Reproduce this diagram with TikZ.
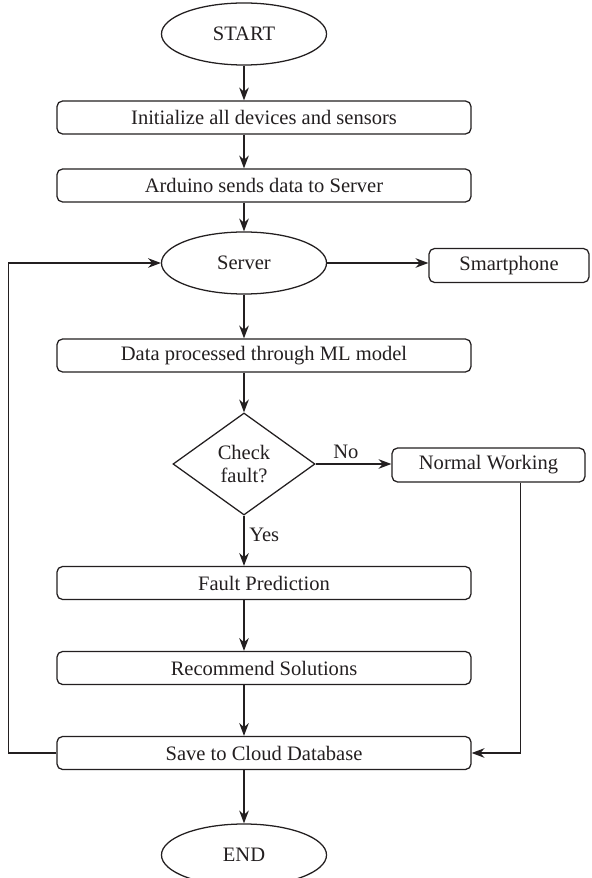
\documentclass[tikz,border=0pt]{standalone}
\usepackage{fontspec}
\setmainfont{Liberation Serif}
\usetikzlibrary{arrows.meta,calc,positioning,shapes.geometric}
\definecolor{FlowInk}{HTML}{231F20}
\definecolor{FlowPaper}{HTML}{FFFFFF}
\tikzset{
  every node/.style={font=\fontsize{14.6}{17}\selectfont, text=FlowInk},
  terminal/.style={ellipse, draw=FlowInk, line width=0.9pt, fill=FlowPaper, minimum width=4.125cm, minimum height=1.55cm, inner sep=0pt},
  process/.style={draw=FlowInk, line width=0.9pt, fill=FlowPaper, rounded corners=4pt, minimum width=10.35cm, minimum height=0.825cm, inner sep=0pt},
  sidebox/.style={draw=FlowInk, line width=0.9pt, fill=FlowPaper, rounded corners=4pt, minimum height=0.85cm, inner sep=0pt},
  decision/.style={diamond, draw=FlowInk, line width=0.9pt, fill=FlowPaper, aspect=1.4, minimum width=3.55cm, minimum height=2.55cm, inner sep=0pt, align=center, font=\fontsize{14.6}{16.5}\selectfont},
  flow/.style={-{Stealth[length=3.2mm,width=2.4mm]}, draw=FlowInk, line width=0.9pt},
}
\begin{document}
\begin{tikzpicture}[x=0.025cm,y=-0.025cm]
  \useasboundingbox (0,0) rectangle (591,878);
  % Main column
  \node[terminal] (start) at (244,34) {START};
  \node[process] (init) at (264,117.5) {Initialize all devices and sensors};
  \node[process] (arduino) at (264,185.5) {Arduino sends data to Server};
  \node[terminal] (server) at (244,263) {Server};
  \node[process] (data) at (264,355.5) {Data processed through ML model};
  \node[decision] (check) at (244,464) {Check\\fault?};
  \node[process] (fault) at (264,583) {Fault Prediction};
  \node[process] (recommend) at (264,668) {Recommend Solutions};
  \node[process] (save) at (264,753) {Save to Cloud Database};
  \node[terminal] (finish) at (244,855) {END};
  % Side boxes
  \node[sidebox, minimum width=4.0cm] (smart) at (509,265.5) {Smartphone};
  \node[sidebox, minimum width=4.825cm] (normal) at (488.5,465) {Normal Working};
  % Straight flow down the column
  \draw[flow] (start.south) -- (start.south |- init.north);
  \draw[flow] (init.south -| start.south) -- (arduino.north -| start.south);
  \draw[flow] (arduino.south -| server.north) -- (server.north);
  \draw[flow] (server.south) -- (server.south |- data.north);
  \draw[flow] (data.south -| check.north) -- (check.north);
  \draw[flow] (check.south) -- node[right, pos=0.38] {Yes} (check.south |- fault.north);
  \draw[flow] (fault.south -| check.south) -- (recommend.north -| check.south);
  \draw[flow] (recommend.south -| check.south) -- (save.north -| check.south);
  \draw[flow] (save.south -| finish.north) -- (finish.north);
  % Branches
  \draw[flow] (server.east) -- (smart.west |- server.east);
  \draw[flow] (check.east) -- node[above, pos=0.4] {No} (normal.west |- check.east);
  \draw[flow] ($(normal.south east)!0.337!(normal.south west)$) |- (save.east);
  % Loop back to the server
  \draw[flow] (save.west) -- ++(-48,0) |- (server.west);
\end{tikzpicture}
\end{document}
